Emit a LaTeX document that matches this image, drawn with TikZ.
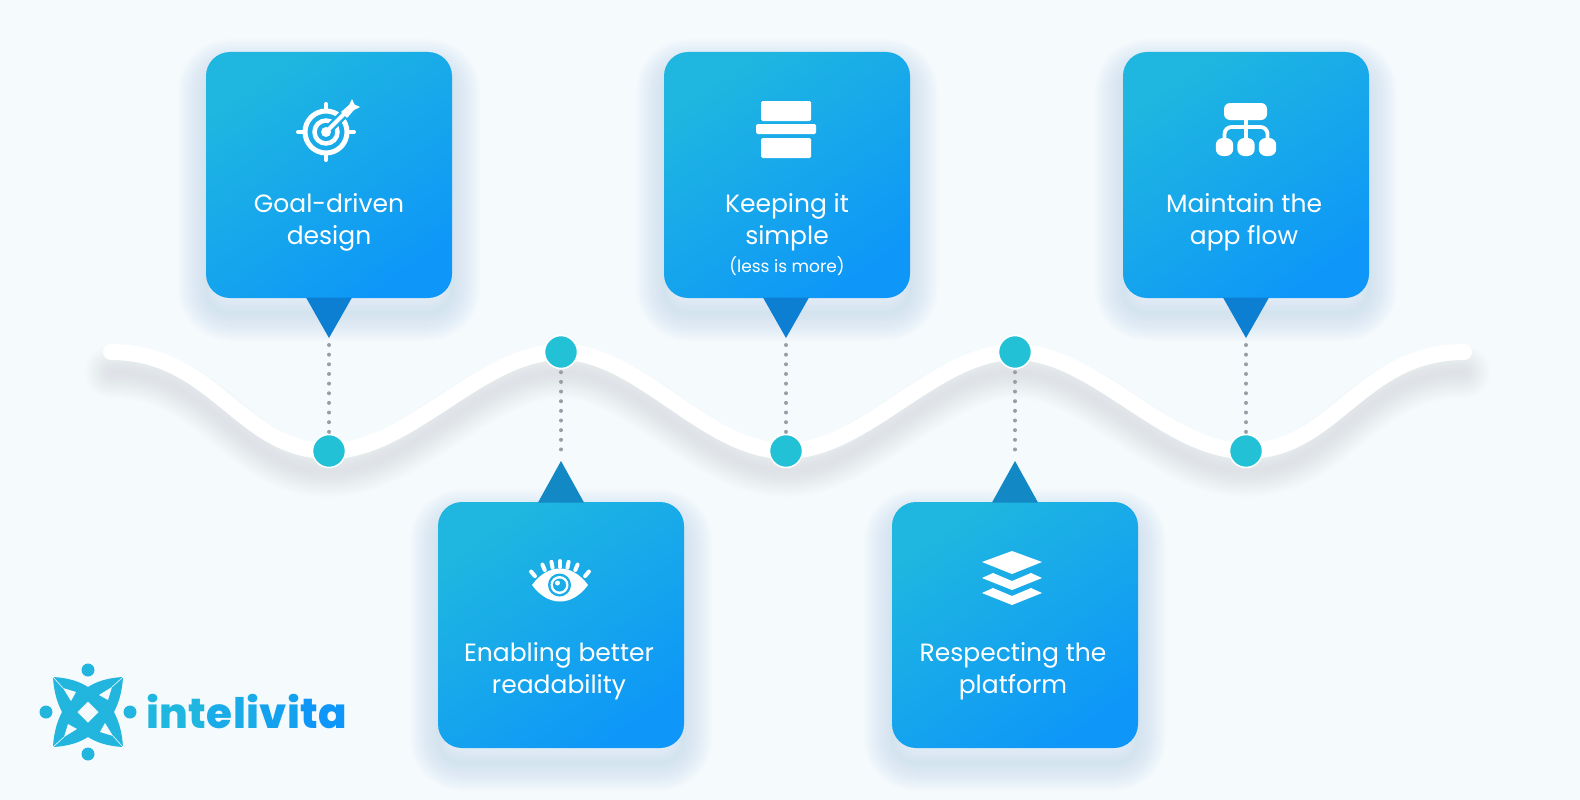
\documentclass[tikz,border=0pt]{standalone}
\usepackage{fontspec}
\setmainfont{Poppins}
\newfontfamily\logofont{Poppins ExtraBold}[LetterSpace=1.2]
\usetikzlibrary{positioning}
\definecolor{pagebg}{HTML}{F5FAFD}
\definecolor{boxtop}{HTML}{1FB7DF}
\definecolor{boxbot}{HTML}{0E97F8}
\definecolor{tipup}{HTML}{0D7FD2}
\definecolor{tipdown}{HTML}{1288C4}
\definecolor{pincol}{HTML}{22C1D6}
\definecolor{dotcol}{HTML}{9A9CA6}
\definecolor{logocol}{HTML}{22B6DE}
\definecolor{boxshade}{HTML}{A9CCE8}
\definecolor{waveshade}{HTML}{B9BBC2}
\tikzset{
    card/.style={minimum width=246pt,minimum height=246pt,rounded corners=24pt,inner sep=0pt,
        shading=axis,top color=boxtop,bottom color=boxbot,shading angle=35},
    cardtext/.style={text=white,align=center,font=\fontsize{25}{32}\selectfont},
    pin/.style={circle,fill=pincol,draw=white,line width=1.5pt,minimum size=33pt,inner sep=0pt},
    dotline/.style={dotcol,line width=4pt,line cap=round,dash pattern=on 0pt off 9.65pt},
    iconline/.style={white,line cap=round,line width=4pt}
}
\newcommand{\wavepath}{(111,352) .. controls (215,352) and (240,451) .. (329,451)
    .. controls (410,451) and (480,352) .. (561,352)
    .. controls (640,352) and (705,451) .. (786,451)
    .. controls (865,451) and (935,352) .. (1015,352)
    .. controls (1095,352) and (1165,451) .. (1246,451)
    .. controls (1335,451) and (1360,352) .. (1464,352)}
\newcommand{\cardshade}[2]{%
    \foreach \w in {56,52,...,4}{
        \draw[boxshade,opacity=.03,line width=\w pt,rounded corners=24pt,line join=round]
            (#1-123,#2-123+15) rectangle (#1+123,#2+123+15);
    }
}
\begin{document}
\begin{tikzpicture}[x=1pt,y=-1pt]
    \fill[pagebg] (0,0) rectangle (1580,800);
    \useasboundingbox (0,0) rectangle (1580,800);

    % shadows
    \cardshade{329}{175}
    \cardshade{787}{175}
    \cardshade{1246}{175}
    \cardshade{561}{625}
    \cardshade{1015}{625}
    \foreach \w in {52,48,...,4}{
        \begin{scope}[yshift=-20pt]
            \draw[waveshade,opacity=.022,line width=\w pt,line cap=round] \wavepath;
        \end{scope}
    }

    % the wave
    \draw[white,line width=16pt,line cap=round] \wavepath;

    % cards
    \node[card] (goal) at (329,175) {};
    \node[card] (simple) at (787,175) {};
    \node[card] (flow) at (1246,175) {};
    \node[card] (read) at (561,625) {};
    \node[card] (platform) at (1015,625) {};

    % pins
    \node[pin] (pina) at (329,451) {};
    \node[pin] (pinb) at (561,352) {};
    \node[pin] (pinc) at (786,451) {};
    \node[pin] (pind) at (1015,352) {};
    \node[pin] (pine) at (1246,451) {};

    % pointers
    \coordinate (tipa) at (329,338);
    \coordinate (tipb) at (561,461);
    \coordinate (tipc) at (786,338);
    \coordinate (tipd) at (1015,461);
    \coordinate (tipe) at (1246,338);
    \fill[tipup] (306,297.5) -- (352,297.5) -- (tipa) -- cycle;
    \fill[tipup] (763,297.5) -- (809,297.5) -- (tipc) -- cycle;
    \fill[tipup] (1223,297.5) -- (1269,297.5) -- (tipe) -- cycle;
    \fill[tipdown] (538,502.5) -- (584,502.5) -- (tipb) -- cycle;
    \fill[tipdown] (992,502.5) -- (1038,502.5) -- (tipd) -- cycle;

    % dotted connectors
    \draw[dotline,shorten <=7pt,shorten >=1pt] (tipa) -- (pina);
    \draw[dotline,shorten <=7pt,shorten >=1pt] (tipc) -- (pinc);
    \draw[dotline,shorten <=7pt,shorten >=1pt] (tipe) -- (pine);
    \draw[dotline,shorten <=3pt,shorten >=3pt] (pinb) -- (tipb);
    \draw[dotline,shorten <=3pt,shorten >=3pt] (pind) -- (tipd);

    % labels
    \node[cardtext] (goaltxt) at (329,222) {Goal-driven\\design};
    \node[cardtext] (simpletxt) at (787,222) {Keeping it\\simple};
    \node[text=white,font=\fontsize{17}{20}\selectfont] (lesstxt) at (787,266) {(less is more)};
    \node[cardtext] (flowtxt) at (1244,222) {Maintain the\\app flow};
    \node[cardtext] (readtxt) at (559,671) {Enabling better\\readability};
    \node[cardtext] (platformtxt) at (1013,671) {Respecting the\\platform};

    % target icon
    \begin{scope}[shift={(326,132)}]
        \draw[iconline,line width=5pt] (0,0) circle (21);
        \draw[iconline,line width=4.5pt] (0,0) circle (11.5);
        \fill[white] (0,0) circle (5);
        \foreach \a in {0,90,180,270}{
            \draw[iconline] (\a:23) -- (\a:28);
        }
        \draw[boxtop!70!boxbot,line width=9pt] (4,-4) -- (22,-22);
        \draw[iconline,line cap=butt] (0,0) -- (22,-22);
        \fill[white] (15,-20) -- (23,-27) -- (26,-33) -- (28.5,-27.5) -- (34,-25) -- (28,-22) -- (21,-14) -- cycle;
    \end{scope}

    % bars icon
    \fill[white,rounded corners=1.5pt] (761,101) rectangle (811,121);
    \fill[white,rounded corners=1.5pt] (756,124) rectangle (816,134);
    \fill[white,rounded corners=1.5pt] (761,138) rectangle (811,158);

    % tree icon
    \fill[white,rounded corners=6pt] (1224,103) rectangle (1267,120);
    \draw[iconline,line width=3.8pt,rounded corners=7pt,line cap=butt] (1224.5,142) -- (1224.5,127) -- (1267.5,127) -- (1267.5,142);
    \draw[iconline,line width=3.8pt,line cap=butt] (1246,118) -- (1246,142);
    \foreach \x in {1224.5,1246,1267.5}{
        \fill[white,rounded corners=7pt] (\x-8.7,138) rectangle (\x+8.7,156);
    }

    % eye icon
    \fill[white] (532,585) .. controls (548,563) and (572,563) .. (588,585)
        .. controls (572,607) and (548,607) .. cycle;
    \fill[boxtop!70!boxbot] (559.5,585) circle (11.5);
    \fill[white] (559.5,585) circle (9);
    \fill[boxtop!70!boxbot] (559.5,585) circle (6.5);
    \fill[white] (557.5,583) circle (2.5);
    \begin{scope}[shift={(560,606)}]
        \foreach \a in {-130,-113,-101,-90,-79,-67,-50}{
            \draw[iconline,line width=4pt] (\a:39) -- (\a:45);
        }
    \end{scope}

    % layers icon
    \fill[white] (1012,551) -- (1042,562) -- (1012,574) -- (982,562) -- cycle;
    \fill[white] (982,578) -- (993,573) -- (1012,581) -- (1031,573) -- (1042,578) -- (1012,590) -- cycle;
    \fill[white] (982,593) -- (993,588) -- (1012,596) -- (1031,588) -- (1042,593) -- (1012,605) -- cycle;

    % logo
    \begin{scope}[shift={(88,712)}]
        \fill[logocol] (-35,-35) .. controls (-18,-34) and (-8,-30) .. (0,-25)
            .. controls (8,-30) and (18,-34) .. (35,-35)
            .. controls (34,-18) and (30,-8) .. (26,0)
            .. controls (30,8) and (34,18) .. (35,35)
            .. controls (18,34) and (8,30) .. (0,25)
            .. controls (-8,30) and (-18,34) .. (-35,35)
            .. controls (-34,18) and (-30,8) .. (-26,0)
            .. controls (-30,-8) and (-34,-18) .. cycle;
        \fill[pagebg] (0,-10.5) -- (10.5,0) -- (0,10.5) -- (-10.5,0) -- cycle;
        \foreach \a in {0,90,180,270}{
            \begin{scope}[rotate=\a]
                \fill[pagebg] (-25,-24) -- (-12,-20) -- (-17,-11) -- cycle;
                \draw[pagebg,line width=.6pt] (-35,-35) -- (-25,-24);
            \end{scope}
            \fill[logocol] (\a:42) circle (6.5);
        }
    \end{scope}
    \node[anchor=base west,inner sep=0pt,font=\fontsize{42}{42}\logofont] (logotxt) at (146,728)
        {\textcolor{boxtop}{int}\textcolor{boxtop!65!boxbot}{eli}\textcolor{boxtop!35!boxbot}{vi}\textcolor{boxbot}{ta}};
\end{tikzpicture}
\end{document}
